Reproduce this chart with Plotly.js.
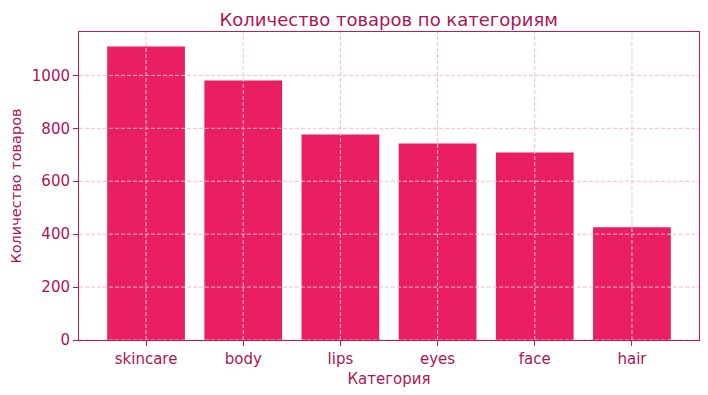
<!DOCTYPE html>
<html><head><meta charset="utf-8">
<script src="https://cdn.plot.ly/plotly-3.0.1.min.js"></script>
<style>body{margin:0}#c{width:708px;height:395px}</style>
</head><body><div id="c"></div>
<script>
const categories = ["skincare","body","lips","eyes","face","hair"];
const counts = [1109, 981, 777, 743, 709, 426];
const yTicks = [0,200,400,600,800,1000];

const txt = "#AD1457";
const gridCol = "#F8BBD0";
const shapes = [];
yTicks.forEach(v => shapes.push({type:"line", xref:"paper", x0:0, x1:1, yref:"y", y0:v, y1:v, layer:"above",
  line:{color:gridCol, width:1, dash:"4px,2px"}}));
categories.forEach(c => shapes.push({type:"line", yref:"paper", y0:0, y1:1, xref:"x", x0:c, x1:c, layer:"above",
  line:{color:gridCol, width:1, dash:"4px,2px"}}));

Plotly.newPlot("c", [{type:"bar", x:categories, y:counts, marker:{color:"#E91E63"}, width:0.8}], {
  width:708, height:395,
  margin:{l:79, r:9, t:32, b:55},
  paper_bgcolor:"#fff", plot_bgcolor:"#fff",
  font:{family:"DejaVu Sans", color:txt, size:14},
  title:{text:"Количество товаров по категориям", font:{size:18, color:txt}, x:0.549, xanchor:"center", y:0.967, yanchor:"top"},
  xaxis:{range:[-0.69,5.69], showgrid:false, ticks:"outside", ticklen:5, tickcolor:"#C2185B",
    showline:true, mirror:true, linecolor:"#C2185B", linewidth:1, tickfont:{size:15, color:txt},
    title:{text:"Категория", font:{size:15, color:txt}, standoff:6}},
  yaxis:{range:[0,1164], tickvals:yTicks, showgrid:false, zeroline:false, ticks:"outside", ticklen:5, tickcolor:"#C2185B",
    showline:true, mirror:true, linecolor:"#C2185B", linewidth:1, tickfont:{size:15, color:txt},
    title:{text:"Количество товаров", font:{size:14.5, color:txt}, standoff:6}},
  shapes:shapes,
  showlegend:false
}, {displayModeBar:false});
</script></body></html>
